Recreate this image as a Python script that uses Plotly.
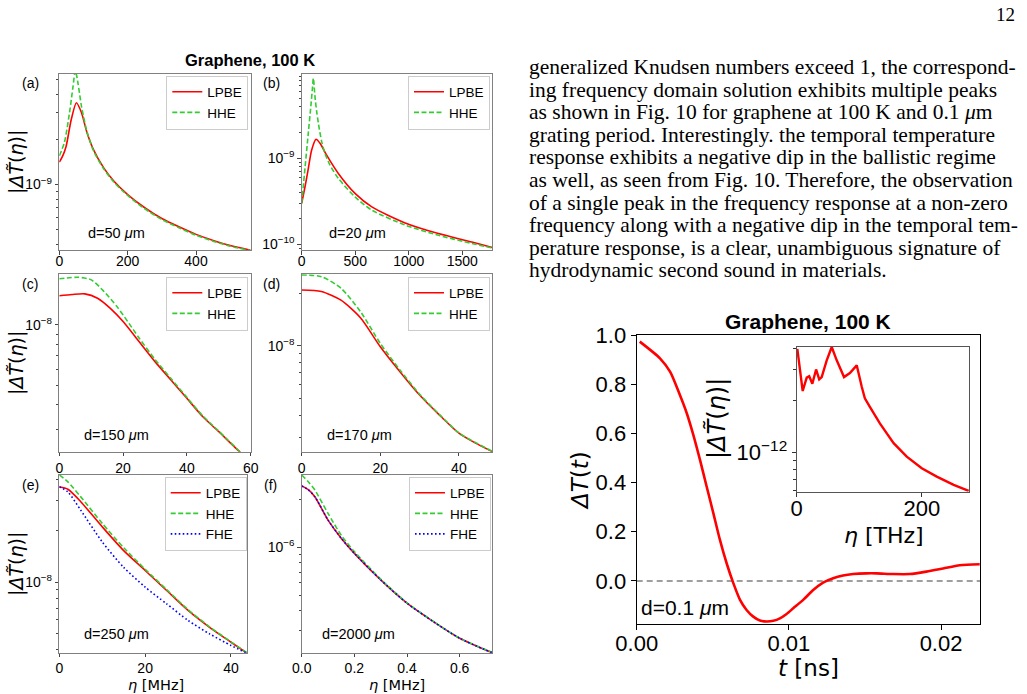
import plotly.graph_objects as go

W, H = 1027, 694


def fx(x):
    return x / W


def fy(y):
    return 1 - y / H


# ---------------- data ----------------
# (a) d = 50 um
a_eta_lpbe = [0, 10, 20, 35, 50, 65, 80, 100, 130, 160, 200, 250, 300, 350, 400, 450, 500, 560]
a_lpbe = [1.41e-9, 1.55e-9, 1.80e-9, 2.71e-9, 3.51e-9, 3.01e-9, 2.26e-9, 1.71e-9, 1.29e-9, 1.05e-9,
          8.57e-10, 7.00e-10, 5.93e-10, 5.22e-10, 4.65e-10, 4.24e-10, 3.92e-10, 3.65e-10]
a_eta_hhe = [0, 15, 30, 40, 47, 55, 65, 80, 100, 130, 160, 200, 250, 300, 350, 400, 450, 500, 560]
a_hhe = [1.55e-9, 1.91e-9, 3.02e-9, 4.47e-9, 5.75e-9, 4.68e-9, 3.31e-9, 2.29e-9, 1.68e-9, 1.27e-9,
         1.035e-9, 8.45e-10, 6.89e-10, 5.85e-10, 5.15e-10, 4.59e-10, 4.19e-10, 3.88e-10, 3.62e-10]

# (b) d = 20 um
b_eta_lpbe = [0, 31, 62, 93, 134, 171, 233, 342, 498, 655, 966, 1277, 1589, 1780]
b_lpbe = [2.99e-10, 4.67e-10, 7.64e-10, 1.25e-9, 1.67e-9, 1.50e-9, 1.09e-9, 6.68e-10, 3.91e-10,
          2.72e-10, 1.77e-10, 1.33e-10, 1.06e-10, 9.14e-11]
b_eta_hhe = [0, 31, 62, 87, 100, 109, 124, 140, 156, 187, 218, 264, 342, 498, 655, 966, 1277, 1589, 1780]
b_hhe = [2.99e-10, 7.76e-10, 2.00e-9, 4.27e-9, 6.52e-9, 8.59e-9, 5.24e-9, 3.50e-9, 2.56e-9, 1.56e-9,
         1.14e-9, 8.36e-10, 5.85e-10, 3.56e-10, 2.49e-10, 1.67e-10, 1.27e-10, 1.02e-10, 9.02e-11]

# (c) d = 150 um
c_eta_lpbe = [0, 4, 8, 12, 16, 20, 25, 30, 35, 40, 45, 50, 56.5, 60]
c_lpbe = [1.40e-8, 1.42e-8, 1.43e-8, 1.36e-8, 1.21e-8, 1.04e-8, 8.26e-9, 6.56e-9, 5.31e-9, 4.30e-9,
          3.48e-9, 2.93e-9, 2.33e-9, 2.09e-9]
c_eta_hhe = [0, 6, 10, 14, 18, 22, 25, 30, 35, 40, 45, 50, 56.5, 60]
c_hhe = [1.70e-8, 1.73e-8, 1.68e-8, 1.47e-8, 1.24e-8, 1.01e-8, 8.61e-9, 6.73e-9, 5.40e-9, 4.35e-9,
         3.51e-9, 2.95e-9, 2.34e-9, 2.10e-9]

# (d) d = 170 um
d_eta = [0, 5, 10, 15, 20, 25, 30, 35, 40, 44, 48.5]
d_lpbe = [2.08e-8, 2.04e-8, 1.82e-8, 1.44e-8, 9.86e-9, 7.10e-9, 5.22e-9, 4.02e-9, 3.16e-9, 2.79e-9, 2.48e-9]
d_hhe = [2.54e-8, 2.48e-8, 2.13e-8, 1.56e-8, 1.03e-8, 7.26e-9, 5.28e-9, 4.05e-9, 3.17e-9, 2.81e-9, 2.49e-9]

# (e) d = 250 um
e_eta = [0, 2, 5, 10, 15, 20, 25, 30, 35, 40, 43.8]
e_lpbe = [3.62e-8, 3.50e-8, 2.96e-8, 2.11e-8, 1.53e-8, 1.17e-8, 8.93e-9, 6.82e-9, 5.43e-9, 4.44e-9, 3.82e-9]
e_hhe = [4.25e-8, 3.87e-8, 3.16e-8, 2.21e-8, 1.59e-8, 1.19e-8, 9.04e-9, 6.89e-9, 5.47e-9, 4.46e-9, 3.84e-9]
e_fhe = [3.62e-8, 3.38e-8, 2.64e-8, 1.72e-8, 1.22e-8, 9.35e-9, 7.46e-9, 5.96e-9, 4.97e-9, 4.25e-9, 3.82e-9]

# (f) d = 2000 um
f_eta = [0, 0.025, 0.05, 0.1, 0.15, 0.2, 0.3, 0.4, 0.5, 0.6, 0.724]
f_lpbe = [2.42e-6, 2.29e-6, 2.07e-6, 1.48e-6, 1.14e-6, 9.16e-7, 6.25e-7, 4.47e-7, 3.43e-7, 2.70e-7, 2.19e-7]
f_hhe = [2.83e-6, 2.57e-6, 2.28e-6, 1.63e-6, 1.19e-6, 9.40e-7, 6.32e-7, 4.50e-7, 3.44e-7, 2.70e-7, 2.20e-7]
f_fhe = [2.42e-6, 2.29e-6, 2.07e-6, 1.48e-6, 1.14e-6, 9.17e-7, 6.26e-7, 4.47e-7, 3.43e-7, 2.70e-7, 2.19e-7]

# right: temporal response, d = 0.1 um
t_ns = [0.0002, 0.00153, 0.0022, 0.0028, 0.00329, 0.00372, 0.00416, 0.0046, 0.00504, 0.00547, 0.00591,
        0.00635, 0.00679, 0.00722, 0.00766, 0.0081, 0.00854, 0.00898, 0.00941, 0.00985, 0.01029,
        0.01094, 0.0116, 0.01225, 0.01291, 0.01356, 0.01422, 0.01509, 0.01576, 0.01685, 0.01795,
        0.01904, 0.02014, 0.02123, 0.02254]
dT = [0.973, 0.905, 0.850, 0.762, 0.682, 0.594, 0.492, 0.383, 0.275, 0.167, 0.072,
      -0.009, -0.077, -0.118, -0.145, -0.161, -0.165, -0.162, -0.152, -0.134, -0.111,
      -0.077, -0.037, -0.007, 0.011, 0.022, 0.028, 0.031, 0.031, 0.028, 0.028,
      0.038, 0.051, 0.064, 0.068]

# inset: frequency response (THz)
in_eta = [1, 9.6, 16, 20, 25, 31, 36, 40, 48, 56, 64, 75.7, 85, 96, 104, 109, 117, 133, 155, 176, 200, 224, 251, 275]
in_amp = [3.96e-12, 2.26e-12, 2.70e-12, 2.75e-12, 2.49e-12, 3.01e-12, 2.64e-12, 2.72e-12, 3.40e-12, 4.06e-12,
          3.40e-12, 2.72e-12, 2.87e-12, 3.18e-12, 2.39e-12, 2.05e-12, 1.83e-12, 1.47e-12, 1.13e-12,
          9.44e-13, 8.09e-13, 7.24e-13, 6.49e-13, 6.00e-13]

panel_labels = ["(a)", "(b)", "(c)", "(d)", "(e)", "(f)"]
d_labels = ["d=50 <i>μ</i>m", "d=20 <i>μ</i>m", "d=150 <i>μ</i>m", "d=170 <i>μ</i>m",
            "d=250 <i>μ</i>m", "d=2000 <i>μ</i>m"]

paragraph = [
    "generalized Knudsen numbers exceed 1, the correspond-",
    "ing frequency domain solution exhibits multiple peaks",
    "as shown in Fig. 10 for graphene at 100 K and 0.1 <i>μ</i>m",
    "grating period. Interestingly. the temporal temperature",
    "response exhibits a negative dip in the ballistic regime",
    "as well, as seen from Fig. 10. Therefore, the observation",
    "of a single peak in the frequency response at a non-zero",
    "frequency along with a negative dip in the temporal tem-",
    "perature response, is a clear, unambiguous signature of",
    "hydrodynamic second sound in materials.",
]

# ---------------- styling ----------------
RED = "#ff0000"
GREEN = "#33cc33"
BLUE = "#0000ff"
SANS = "Liberation Sans, Arial, sans-serif"
MATH = "DejaVu Sans, sans-serif"
SERIF = "Liberation Serif, Times New Roman, serif"
SPINE = "#808080"

fig = go.Figure()


def line(xa, ya, x, y, name, color, dash, leg, width=1.6, shape="spline", show=True):
    fig.add_trace(go.Scatter(
        x=x, y=y, mode="lines", name=name, xaxis=xa, yaxis=ya, legend=leg, showlegend=show,
        line=dict(color=color, dash=dash, width=width, shape=shape, smoothing=0.7)))


HHE_DASH = "5px,2.5px"
FHE_DASH = "1.6px,2.4px"

line("x", "y", a_eta_lpbe, a_lpbe, "LPBE", RED, "solid", "legend")
line("x", "y", a_eta_hhe, a_hhe, "HHE", GREEN, HHE_DASH, "legend")
line("x2", "y2", b_eta_lpbe, b_lpbe, "LPBE", RED, "solid", "legend2")
line("x2", "y2", b_eta_hhe, b_hhe, "HHE", GREEN, HHE_DASH, "legend2")
line("x3", "y3", c_eta_lpbe, c_lpbe, "LPBE", RED, "solid", "legend3")
line("x3", "y3", c_eta_hhe, c_hhe, "HHE", GREEN, HHE_DASH, "legend3")
line("x4", "y4", d_eta, d_lpbe, "LPBE", RED, "solid", "legend4")
line("x4", "y4", d_eta, d_hhe, "HHE", GREEN, HHE_DASH, "legend4")
line("x5", "y5", e_eta, e_lpbe, "LPBE", RED, "solid", "legend5")
line("x5", "y5", e_eta, e_hhe, "HHE", GREEN, HHE_DASH, "legend5")
line("x5", "y5", e_eta, e_fhe, "FHE", BLUE, FHE_DASH, "legend5")
line("x6", "y6", f_eta, f_lpbe, "LPBE", RED, "solid", "legend6")
line("x6", "y6", f_eta, f_hhe, "HHE", GREEN, HHE_DASH, "legend6")
line("x6", "y6", f_eta, f_fhe, "FHE", BLUE, FHE_DASH, "legend6")
line("x7", "y7", t_ns, dT, "dT", RED, "solid", "legend", width=2.6, show=False)
line("x8", "y8", in_eta, in_amp, "inset", RED, "solid", "legend", width=2.4, shape="linear", show=False)

# ---------------- axes ----------------
# pixel boxes: (left, top, right, bottom)
boxes = {
    1: (59.3, 73.8, 250.7, 250.2),
    2: (301.7, 73.8, 492.3, 250.2),
    3: (59.3, 274.3, 250.7, 451.7),
    4: (301.7, 274.3, 492.3, 451.7),
    5: (59.3, 475.0, 247.3, 652.7),
    6: (301.7, 475.0, 492.3, 652.7),
    7: (636.7, 335.0, 980.0, 624.0),
    8: (796.7, 346.7, 969.3, 491.7),
}
x_ranges = {1: [0, 560], 2: [0, 1780], 3: [0, 60], 4: [0, 48.5], 5: [0, 43.8], 6: [0, 0.724]}
y_log_ranges = {1: [-9.438, -8.262], 2: [-10.07, -8.014], 3: [-8.633, -7.747], 4: [-8.606, -7.592],
                5: [-8.414, -7.372], 6: [-6.659, -5.548]}
x_ticks = {1: [0, 200, 400], 2: [0, 500, 1000, 1500], 3: [0, 20, 40, 60], 4: [0, 20, 40],
           5: [0, 20, 40], 6: [0.0, 0.2, 0.4, 0.6]}
x_ticktext = {1: ["0", "200", "400"], 2: ["0", "500", "1000", "1500"], 3: ["0", "20", "40", "60"],
              4: ["0", "20", "40"], 5: ["0", "20", "40"], 6: ["0.0", "0.2", "0.4", "0.6"]}
x_label_shift = {1: -6, 2: -6, 3: 0, 4: 0, 5: -1, 6: -1}
y_major = {1: [-9], 2: [-10, -9], 3: [-8], 4: [-8], 5: [-8], 6: [-6]}


def minor_vals(lo, hi):
    vals = []
    for n in range(int(lo) - 2, int(hi) + 2):
        for k in range(2, 10):
            v = k * 10.0 ** n
            if 10 ** lo <= v <= 10 ** hi:
                vals.append(v)
    return vals


layout_axes = {}
for i in range(1, 9):
    l, t, r, b = boxes[i]
    xk = "xaxis" if i == 1 else f"xaxis{i}"
    yk = "yaxis" if i == 1 else f"yaxis{i}"
    xa_anchor = "y" if i == 1 else f"y{i}"
    ya_anchor = "x" if i == 1 else f"x{i}"
    if i <= 6:
        fs = 14
        common = dict(showline=True, mirror=True, linecolor=SPINE, linewidth=1, ticks="outside",
                      ticklen=3.5, tickwidth=1, tickcolor="#444", showgrid=False, zeroline=False,
                      automargin=False, tickfont=dict(family=SANS, size=fs, color="black"))
        layout_axes[xk] = dict(domain=[fx(l), fx(r)], anchor=xa_anchor, range=x_ranges[i],
                               tickmode="array", tickvals=x_ticks[i], ticktext=x_ticktext[i],
                               ticklabelstandoff=x_label_shift[i], **common)
        lo, hi = y_log_ranges[i]
        layout_axes[yk] = dict(domain=[fy(b), fy(t)], anchor=ya_anchor, type="log", range=[lo, hi],
                               tickmode="array", tickvals=[10.0 ** m for m in y_major[i]],
                               ticktext=[f"10<sup>−{-m}</sup>" for m in y_major[i]],
                               minor=dict(tickmode="array", tickvals=minor_vals(lo, hi), ticks="outside",
                                          ticklen=2, tickcolor="#444"),
                               **common)
    elif i == 7:
        common = dict(showline=True, mirror=True, linecolor="black", linewidth=1.2, ticks="outside",
                      ticklen=5, tickwidth=1.2, tickcolor="black", showgrid=False, zeroline=False,
                      automargin=False, tickfont=dict(family=SANS, size=22, color="black"))
        layout_axes[xk] = dict(domain=[fx(l), fx(r)], anchor=xa_anchor, range=[0, 0.02256],
                               tickmode="array", tickvals=[0, 0.01, 0.02],
                               ticktext=["0.00", "0.01", "0.02"], ticklabelstandoff=-6, **common)
        layout_axes[yk] = dict(domain=[fy(b), fy(t)], anchor=ya_anchor, range=[-0.175, 1.0],
                               tickmode="array", tickvals=[0, 0.2, 0.4, 0.6, 0.8, 1.0],
                               ticktext=["0.0", "0.2", "0.4", "0.6", "0.8", "1.0"], **common)
    else:
        common = dict(showline=True, mirror=True, linecolor="#555", linewidth=1.2, ticks="outside",
                      ticklen=4, tickwidth=1.2, tickcolor="#333", showgrid=False, zeroline=False,
                      automargin=False, tickfont=dict(family=SANS, size=22, color="black"))
        layout_axes[xk] = dict(domain=[fx(l), fx(r)], anchor=xa_anchor, range=[0, 276],
                               tickmode="array", tickvals=[0, 200], ticktext=["0", "200"],
                               ticklabelstandoff=-7, **common)
        lo, hi = -12.227, -11.39
        layout_axes[yk] = dict(domain=[fy(b), fy(t)], anchor=ya_anchor, type="log", range=[lo, hi],
                               tickmode="array", tickvals=[1e-12], ticktext=["10<sup>−12</sup>"],
                               minor=dict(tickmode="array", tickvals=minor_vals(lo, hi), ticks="outside",
                                          ticklen=2.5, tickcolor="#333"),
                               **common)

# ---------------- legends ----------------
legend_pos = {1: (248.3, 75.5), 2: (490.0, 75.5), 3: (248.3, 276.5), 4: (490.0, 276.5),
              5: (246.7, 476.5), 6: (491.0, 476.5)}
legends = {}
for i in range(1, 7):
    key = "legend" if i == 1 else f"legend{i}"
    x, y = legend_pos[i]
    legends[key] = dict(x=fx(x), y=fy(y), xanchor="right", yanchor="top", xref="paper", yref="paper",
                        bgcolor="rgba(255,255,255,0.85)", bordercolor="#cccccc", borderwidth=1,
                        font=dict(family=SANS, size=13.5, color="black"), itemwidth=30,
                        tracegroupgap=0)

# ---------------- annotations ----------------
ann = []


def text(x, y, s, size, family=SANS, xanchor="center", yanchor="middle", angle=0, bold=False, color="black"):
    if bold:
        s = f"<b>{s}</b>"
    ann.append(dict(x=fx(x), y=fy(y), xref="paper", yref="paper", text=s, showarrow=False,
                    xanchor=xanchor, yanchor=yanchor, textangle=angle,
                    font=dict(family=family, size=size, color=color)))


text(250, 60, "Graphene, 100 K", 16.5, bold=True)
panel_xy = [(30, 83), (271.5, 83), (30, 283.5), (271.5, 283.5), (30, 485), (270.5, 485)]
d_xy = [(116.7, 233.5), (357.5, 233.5), (116.7, 435), (359, 435), (116.7, 633.5), (358, 633.5)]
for (x, y), s in zip(panel_xy, panel_labels):
    text(x, y, s, 14)
for (x, y), s in zip(d_xy, d_labels):
    text(x, y, s, 14.5)

ylab = "|<i>ΔT\u0303</i>(<i>η</i>)|"
for yc in (162, 363, 564):
    text(16, yc, ylab, 19, family=MATH, angle=-90)
text(156, 684.5, "<i>η</i> [MHz]", 14.5, family=MATH)
text(397, 684.5, "<i>η</i> [MHz]", 14.5, family=MATH)

# right plot texts
text(808, 321, "Graphene, 100 K", 21, bold=True)
text(580, 481, "<i>ΔT</i>(<i>t</i>)", 23, family=MATH, angle=-90)
text(808, 668, "<i>t</i> [ns]", 23, family=MATH)
text(717, 419, ylab, 24, family=MATH, angle=-90)
text(884, 535, "<i>η</i> [THz]", 22, family=MATH)
text(639, 607, "d=0.1 <i>μ</i>m", 21, xanchor="left")

# paragraph
for k, s in enumerate(paragraph):
    text(527, 67 + 22.6 * k, s, 21.5, family=SERIF, xanchor="left")
text(1017, 14, "12", 19, family=SERIF, xanchor="right")

shapes = [dict(type="line", xref="x7 domain", yref="y7", x0=0, x1=1, y0=0, y1=0,
               line=dict(color="#808080", width=1.6, dash="6px,4px"), layer="below")]

fig.update_layout(
    width=W, height=H, margin=dict(l=0, r=0, t=0, b=0, pad=0, autoexpand=False), autosize=False,
    paper_bgcolor="white", plot_bgcolor="white",
    annotations=ann, shapes=shapes, **layout_axes, **legends,
)

fig.write_html("out.html")
